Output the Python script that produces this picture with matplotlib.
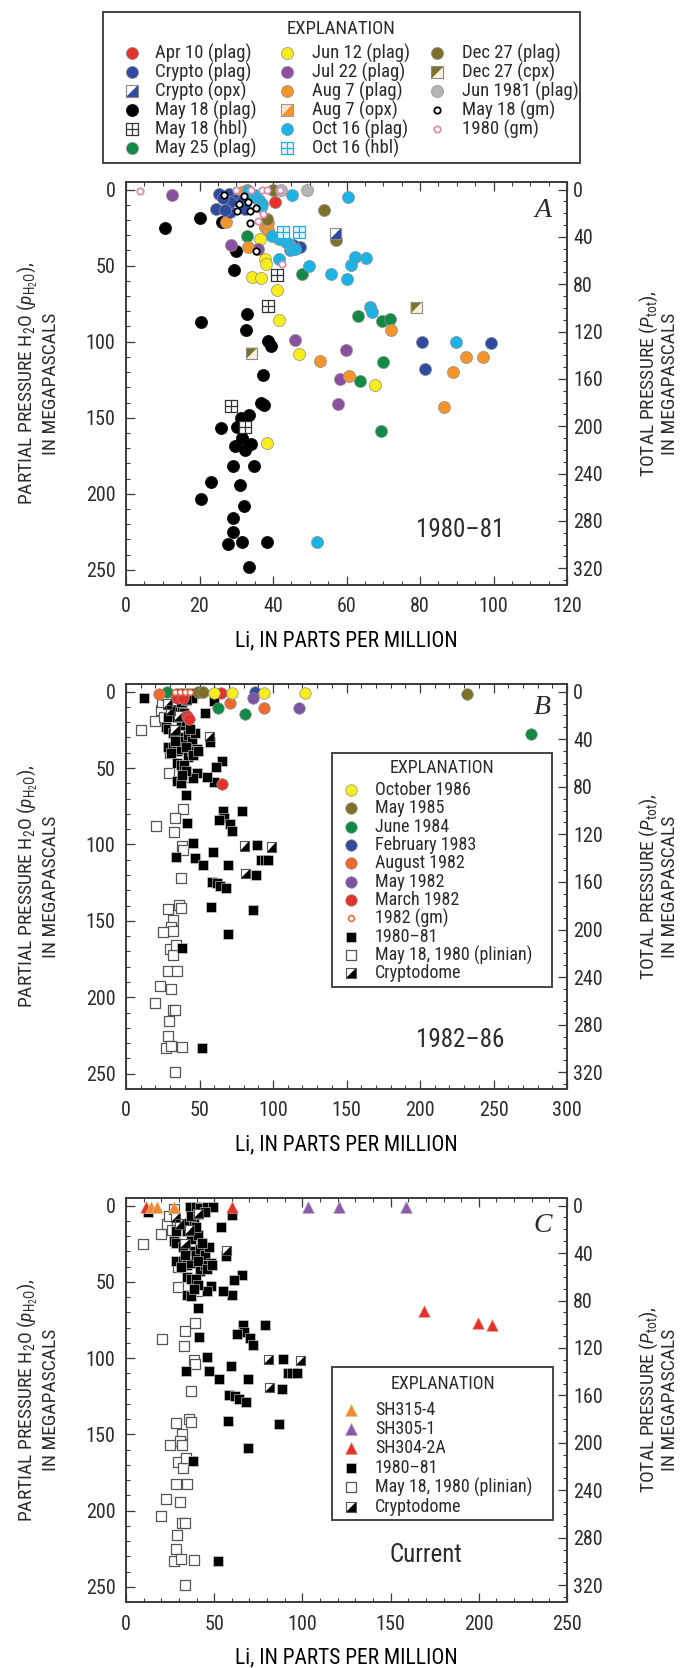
import matplotlib
matplotlib.use("Agg")
import matplotlib.pyplot as plt
from matplotlib.path import Path
from matplotlib.lines import Line2D
from matplotlib.patches import Rectangle
from matplotlib.ticker import MultipleLocator

SANS = ['Roboto Condensed', 'Archivo Narrow', 'Liberation Sans', 'DejaVu Sans']
SERIF = ['Liberation Serif', 'DejaVu Serif']
plt.rcParams['font.family'] = SANS
plt.rcParams['mathtext.fontset'] = 'custom'
plt.rcParams['mathtext.rm'] = 'Roboto Condensed'
plt.rcParams['mathtext.it'] = 'Roboto Condensed:italic'
plt.rcParams['text.color'] = '#2b2b2b'

# ---------------- Panel A: 1980-81 (Li ppm, pH2O MPa) ----------------
a_apr10_li = [40.6]
a_apr10_p = [8.3]
a_crypto_li = [25.4, 28.1, 24.5, 28.3, 29.6, 31.9, 28.3, 26.5, 32.5, 35.2, 27.0, 47.3, 45.5, 80.6, 81.4, 99.2]
a_crypto_p = [3.1, 2.7, 12.5, 14.7, 7.0, 6.6, 8.1, 5.5, 12.5, 5.0, 13.6, 37.8, 36.5, 100.0, 118.0, 101.0]
a_crypto_opx_li = [57.0]
a_crypto_opx_p = [28.8]
a_may18_li = [10.5, 20.0, 26.0, 30.0, 29.5, 20.5, 33.0, 32.7, 38.6, 39.5, 37.4, 36.6, 37.6, 33.5, 31.2,
              25.8, 30.3, 29.7, 32.3, 34.0, 31.5, 29.2, 34.7, 23.0, 30.9, 20.3, 32.2, 29.0, 29.0, 27.7,
              31.6, 38.3, 33.6]
a_may18_p = [25.5, 19.0, 21.0, 40.4, 52.8, 87.0, 82.0, 92.0, 99.4, 103.0, 122.0, 140.0, 141.6, 148.0, 150.0,
             157.0, 156.0, 168.6, 171.0, 167.0, 163.5, 181.7, 181.7, 192.0, 194.0, 203.6, 208.0, 216.0, 225.0,
             233.0, 231.4, 231.4, 248.0]
a_may18_hbl_li = [41.1, 38.7, 28.6, 32.4]
a_may18_hbl_p = [56.0, 76.6, 142.0, 156.0]
a_may25_li = [33.0, 47.9, 63.2, 69.7, 71.9, 69.9, 63.7, 69.3]
a_may25_p = [30.5, 55.7, 83.0, 86.5, 85.4, 113.2, 125.7, 158.7]
a_jun12_li = [37.8, 38.0, 34.4, 36.7, 41.1, 41.7, 47.2, 67.7, 38.3, 36.5]
a_jun12_p = [45.5, 49.0, 57.3, 58.3, 66.2, 86.0, 108.4, 128.5, 166.8, 32.5]
a_jul22_li = [12.5, 28.6, 35.8, 46.0, 59.8, 58.2, 57.6]
a_jul22_p = [3.7, 36.7, 39.2, 99.0, 105.5, 124.6, 141.2]
a_aug7_li = [27.1, 33.3, 37.8, 38.7, 38.6, 33.0, 31.5, 72.1, 52.9, 60.6, 92.4, 97.2, 89.1, 86.5]
a_aug7_p = [21.5, 38.0, 24.6, 26.8, 21.9, 0.5, 1.5, 92.4, 112.7, 122.4, 110.3, 110.3, 120.2, 142.7]
a_aug7_opx_li = []
a_aug7_opx_p = []
a_oct16_li = [45.3, 60.3, 41.5, 44.6, 44.6, 46.0, 43.6, 41.6, 49.7, 55.8, 60.0, 61.1, 62.4, 65.4, 66.3,
              66.9, 89.7, 51.9, 33.3, 35.2, 36.2, 36.9, 36.8, 39.8]
a_oct16_p = [3.5, 5.0, 45.5, 36.7, 40.0, 38.9, 34.4, 32.8, 50.0, 55.8, 58.5, 49.5, 44.0, 44.7, 77.0,
             80.3, 100.0, 231.4, 1.0, 3.8, 7.0, 9.5, 11.4, 30.5]
a_oct16_hbl_li = [42.6, 47.2]
a_oct16_hbl_p = [27.9, 27.9]
a_dec27_li = [53.9, 57.1, 38.3, 40.1]
a_dec27_p = [13.6, 33.4, 19.5, 0.3]
a_dec27_cpx_li = [79.0, 34.2]
a_dec27_cpx_p = [77.7, 107.7]
a_jun1981_li = [49.3, 42.3]
a_jun1981_p = [0.5, 0.3]
a_may18_gm_li = [26.8, 30.8, 33.3, 30.3, 33.7, 35.4, 33.7, 35.5, 32.0]
a_may18_gm_p = [3.8, 9.2, 8.1, 14.0, 14.0, 11.9, 22.0, 40.4, 4.5]
a_gm1980_li = [3.8, 29.9, 33.9, 36.9, 38.3, 41.9, 37.4, 36.0, 42.4]
a_gm1980_p = [1.0, 0.3, 0.3, 0.3, 0.3, 0.3, 15.8, 20.6, 49.2]

# ---------------- Panels B and C: shared 1980-81 reference data ----------------
ref_8081_li = [12.4, 36.4, 39.6, 42.1, 45.8, 49.5, 60.1, 53.7, 56.9, 65.6, 61.4, 60.1, 55.0, 48.3, 45.8,
               34.7, 37.1, 40.8, 66.1, 66.8, 63.1, 70.5, 71.8, 78.7, 41.3, 45.8, 59.4, 47.0, 34.2, 52.7,
               69.3, 89.1, 91.6, 94.3, 96.8, 88.6, 58.2, 61.9, 63.9, 68.1, 57.7, 86.6, 69.3, 37.9, 52.0,
               28.5, 27.2, 28.5, 28.5, 32.2, 34.7, 37.1, 38.4, 39.6, 42.1, 44.6, 47.0, 48.3, 42.1, 44.6,
               37.1, 40.8, 35.9, 38.4, 34.7, 34.7, 37.1, 39.6, 40.8, 38.4, 32.2, 33.4, 30.9, 40.8, 45.8,
               49.0, 37.1, 40.8, 44.6, 39.6, 43.3]
ref_8081_p = [4.4, 1.0, 1.0, 1.5, 1.0, 1.0, 6.0, 13.7, 33.0, 45.3, 49.0, 58.8, 55.7, 53.0, 56.2,
              58.3, 59.6, 67.4, 78.2, 82.9, 84.2, 86.8, 91.5, 78.2, 86.0, 99.2, 104.9, 108.8, 108.3, 113.5,
              113.5, 100.3, 110.0, 110.0, 110.0, 120.0, 124.4, 125.1, 126.9, 128.8, 141.2, 143.0, 158.8, 167.6, 233.2,
              16.8, 23.3, 24.6, 36.3, 36.3, 38.9, 37.6, 29.8, 32.4, 28.5, 32.4, 27.2, 37.6, 42.7, 38.9,
              22.0, 19.4, 11.7, 11.7, 16.8, 46.6, 47.9, 47.9, 51.8, 54.4, 27.2, 32.4, 40.2, 36.3, 41.5,
              38.9, 6.5, 5.2, 3.9, 14.2, 24.6]
ref_plinian_li = [9.9, 19.8, 23.5, 26.0, 24.3, 27.0, 29.7, 29.2, 40.8, 38.9, 33.4, 20.3, 32.7, 38.4, 39.1,
                  37.1, 28.5, 35.9, 37.1, 31.7, 30.4, 31.7, 25.2, 29.7, 32.2, 34.2, 28.5, 34.7, 22.8, 30.4,
                  19.8, 31.7, 33.4, 29.0, 28.5, 27.2, 30.9, 38.4, 33.4]
ref_plinian_p = [25.4, 18.9, 12.2, 16.3, 6.5, 2.0, 40.2, 53.1, 55.7, 76.9, 82.4, 87.6, 92.0, 101.0, 103.6,
                 121.8, 142.5, 139.9, 141.7, 149.5, 154.1, 156.7, 157.3, 168.4, 172.3, 165.8, 182.6, 182.6, 192.5, 194.3,
                 203.9, 208.5, 208.5, 215.8, 225.4, 233.2, 231.9, 232.4, 248.7]
ref_crypto_li = [56.9, 80.7, 99.0, 81.2, 28.0, 30.5, 33.4, 41.0, 36.0]
ref_crypto_p = [29.3, 101.0, 101.6, 119.2, 8.0, 12.0, 25.0, 5.0, 16.0]

# ---------------- Panel B: 1982-86 ----------------
b_oct1986_li = [59.8, 72.0, 94.0, 122.0]
b_oct1986_p = [0.8, 0.8, 0.8, 0.8]
b_may1985_li = [49.2, 52.6, 232.0]
b_may1985_p = [0.5, 0.5, 1.5]
b_jun1984_li = [28.0, 62.8, 80.9, 275.6]
b_jun1984_p = [0.3, 11.0, 14.5, 28.0]
b_feb1983_li = [88.0]
b_feb1983_p = [0.5]
b_aug1982_li = [22.7, 70.7, 94.0]
b_aug1982_p = [1.3, 7.2, 11.0]
b_may1982_li = [86.1, 117.6]
b_may1982_p = [4.0, 11.0]
b_mar1982_li = [34.5, 39.0, 41.3, 43.1, 64.7, 65.1]
b_mar1982_p = [4.0, 4.0, 16.0, 18.2, 0.8, 60.5]
b_gm1982_li = [33.3, 36.7, 40.1, 43.5]
b_gm1982_p = [0.5, 0.5, 0.5, 0.5]

# ---------------- Panel C: current samples ----------------
c_sh315_li = [14.2, 17.7, 27.2]
c_sh315_p = [0.8, 0.8, 0.8]
c_sh305_li = [103.2, 120.8, 158.9]
c_sh305_p = [0.8, 0.8, 0.8]
c_sh304_li = [11.3, 60.1, 168.8, 199.7, 207.4]
c_sh304_p = [0.8, 0.8, 69.2, 76.9, 78.5]

PTOT_FACTOR = 1.285  # total pressure per unit pH2O on the right-hand axis

# ---------------- marker shapes ----------------
SQUARE = Path([(-1, -1), (1, -1), (1, 1), (-1, 1), (-1, -1)],
              [Path.MOVETO, Path.LINETO, Path.LINETO, Path.LINETO, Path.CLOSEPOLY])
LOWER_RIGHT = Path([(-1, -1), (1, -1), (1, 1), (-1, -1)],
                   [Path.MOVETO, Path.LINETO, Path.LINETO, Path.CLOSEPOLY])
UPPER_LEFT = Path([(-1, -1), (1, 1), (-1, 1), (-1, -1)],
                  [Path.MOVETO, Path.LINETO, Path.LINETO, Path.CLOSEPOLY])
GRID_SQ = Path([(-1, -1), (1, -1), (1, 1), (-1, 1), (-1, -1), (0, -1), (0, 1), (-1, 0), (1, 0)],
               [Path.MOVETO, Path.LINETO, Path.LINETO, Path.LINETO, Path.CLOSEPOLY,
                Path.MOVETO, Path.LINETO, Path.MOVETO, Path.LINETO])

C_RED = '#e5312b'
C_BLUE = '#2f4b9f'
C_GREEN = '#108a45'
C_YELLOW = '#f7ec1c'
C_PURPLE = '#8b4f9f'
C_ORANGE = '#f4952c'
C_CYAN = '#1bb3e6'
C_OLIVE = '#7d7129'
C_GRAY = '#b5b5b5'
C_PINK = '#d58fae'
B_ORANGE = '#ee6a2c'
B_PURPLE = '#7c54a4'
T_ORANGE = '#ee8a33'
T_PURPLE = '#8a5aa8'
EDGE = '#8f8f8f'
AXC = '#3a3a3a'

# marker specs: list of layers (marker, face, edge, size_pt, edge_width)
MS_A, MS_SQ_A, MS_GM = 8.7, 8.2, 4.6
MS_B, MS_SQ, MS_TRI = 8.3, 6.7, 8.4


def circ(color, ms, edge=EDGE):
    return [('o', color, edge, ms, 0.5)]


def half(fill, other, tri, ms, edge):
    return [(SQUARE, other, 'none', ms, 0), (tri, fill, 'none', ms, 0), (SQUARE, 'none', edge, ms, 0.8)]


def grid(face, edge, ms):
    return [(GRID_SQ, face, edge, ms, 0.9)]


SPEC = {
    'apr10': circ(C_RED, MS_A), 'crypto': circ(C_BLUE, MS_A),
    'crypto_opx': half(C_BLUE, 'white', LOWER_RIGHT, MS_SQ_A, '#8a8a8a'),
    'may18': circ('black', MS_A, 'black'), 'may18_hbl': grid('white', '#333333', MS_SQ_A),
    'may25': circ(C_GREEN, MS_A), 'jun12': circ(C_YELLOW, MS_A), 'jul22': circ(C_PURPLE, MS_A),
    'aug7': circ(C_ORANGE, MS_A), 'aug7_opx': half(C_ORANGE, '#fbe3d6', LOWER_RIGHT, MS_SQ_A, '#9a9a9a'),
    'oct16': circ(C_CYAN, MS_A), 'oct16_hbl': grid('#e3f4fb', C_CYAN, MS_SQ_A),
    'dec27': circ(C_OLIVE, MS_A), 'dec27_cpx': half(C_OLIVE, '#f6f1dc', UPPER_LEFT, MS_SQ_A, '#8a8a8a'),
    'jun1981': circ(C_GRAY, MS_A), 'may18_gm': [('o', 'white', 'black', MS_GM, 1.3)],
    'gm1980': [('o', 'white', C_PINK, MS_GM, 1.3)],
    'oct1986': circ(C_YELLOW, MS_B), 'may1985': circ(C_OLIVE, MS_B), 'jun1984': circ(C_GREEN, MS_B),
    'feb1983': circ(C_BLUE, MS_B), 'aug1982': circ(B_ORANGE, MS_B), 'may1982': circ(B_PURPLE, MS_B),
    'mar1982': circ(C_RED, MS_B), 'gm1982': [('o', 'white', '#e8603a', 4.2, 1.1)],
    'ref8081': [('s', 'black', '#dddddd', MS_SQ, 0.4)], 'plinian': [('s', 'white', '#555555', MS_SQ, 0.9)],
    'cryptodome': half('black', 'white', LOWER_RIGHT, MS_SQ, '#555555'),
    'sh315': [('^', T_ORANGE, '#f0c090', MS_TRI, 0.5)], 'sh305': [('^', T_PURPLE, '#b0a0c8', MS_TRI, 0.5)],
    'sh304': [('^', C_RED, '#e09a90', MS_TRI, 0.5)],
}


def plot_set(ax, x, y, key, z=3):
    for marker, face, edge, ms, mew in SPEC[key]:
        ax.scatter(x, y, s=ms ** 2, marker=marker, facecolor=face, edgecolor=edge,
                   linewidths=mew, zorder=z)


W, H = 683.0, 1668.0


def fx(px):
    return px / W


def fy(py):
    return 1 - py / H


def legend_box(fig, box, title_y, rows, marker_x, text_x, fontsize):
    x0, y0, x1, y1 = box
    fig.add_artist(Rectangle((fx(x0), fy(y1)), fx(x1) - fx(x0), fy(y0) - fy(y1), transform=fig.transFigure,
                             facecolor='white', edgecolor='#444444', linewidth=1.4, zorder=5))
    fig.text(fx((x0 + x1) / 2), fy(title_y), 'EXPLANATION', ha='center', va='center', fontsize=fontsize, zorder=6)
    for (key, label, ypx, col) in rows:
        for marker, face, edge, ms, mew in SPEC[key]:
            fig.add_artist(Line2D([fx(marker_x[col])], [fy(ypx)], transform=fig.transFigure, ls='none',
                                  marker=marker, markerfacecolor=face, markeredgecolor=edge,
                                  markersize=ms, markeredgewidth=mew, zorder=6))
        fig.text(fx(text_x[col]), fy(ypx), label, ha='left', va='center', fontsize=fontsize, zorder=6)


def style_axes(ax, xmax, xmajor, xminor):
    ax.set_xlim(0, xmax)
    ax.set_ylim(260, -5)
    ax.xaxis.set_major_locator(MultipleLocator(xmajor))
    ax.xaxis.set_minor_locator(MultipleLocator(xminor))
    ax.yaxis.set_major_locator(MultipleLocator(50))
    ax.yaxis.set_minor_locator(MultipleLocator(10))
    ax.tick_params(which='both', direction='in', top=True, right=False, colors=AXC,
                   labelcolor='#2b2b2b', labelsize=14.5)
    ax.tick_params(which='major', length=6.5, width=0.9)
    ax.tick_params(which='minor', length=3.2, width=0.8)
    ax.tick_params(axis='y', pad=7.5)
    ax.tick_params(axis='x', pad=9)
    for sp in ax.spines.values():
        sp.set_color(AXC)
        sp.set_linewidth(1.2)
    ax2 = ax.twinx()
    ax2.set_ylim(260 * PTOT_FACTOR, -5 * PTOT_FACTOR)
    ax2.yaxis.set_major_locator(MultipleLocator(40))
    ax2.yaxis.set_minor_locator(MultipleLocator(10))
    ax2.tick_params(which='both', direction='in', colors=AXC, labelcolor='#2b2b2b', labelsize=14.5, pad=4.5)
    ax2.tick_params(which='major', length=6.5, width=0.9)
    ax2.tick_params(which='minor', length=3.2, width=0.8)
    for sp in ax2.spines.values():
        sp.set_color(AXC)
        sp.set_linewidth(1.2)
    ax.set_xlabel('Li, IN PARTS PER MILLION', fontsize=15.5, labelpad=10)
    return ax2


fig = plt.figure(figsize=(6.83, 16.68), dpi=100)
fig.patch.set_facecolor('white')

panels = {}
for key, top_px, bot_px in [('A', 182, 585), ('B', 684, 1089), ('C', 1198, 1602)]:
    panels[key] = fig.add_axes([126 / W, 1 - bot_px / H, 441 / W, (bot_px - top_px) / H])

YLAB = 'PARTIAL PRESSURE H$_2$O ($p_{\\mathrm{H_2O}}$),\nIN MEGAPASCALS'
RLAB = 'TOTAL PRESSURE ($P_{\\mathrm{tot}}$),\nIN MEGAPASCALS'
for key, ax in panels.items():
    pos = ax.get_position()
    yc = pos.y0 + pos.height / 2
    fig.text(38 / W, yc, YLAB, rotation=90, ha='center', va='center', multialignment='center',
             fontsize=14, linespacing=1.1)
    fig.text(658 / W, yc, RLAB, rotation=90, ha='center', va='center', multialignment='center',
             fontsize=14, linespacing=1.1)

# ---------------- Panel A ----------------
ax = panels['A']
style_axes(ax, 120, 20, 5)
plot_set(ax, a_may18_li, a_may18_p, 'may18')
plot_set(ax, a_may18_hbl_li, a_may18_hbl_p, 'may18_hbl')
plot_set(ax, a_may25_li, a_may25_p, 'may25')
plot_set(ax, a_jun12_li, a_jun12_p, 'jun12')
plot_set(ax, a_jul22_li, a_jul22_p, 'jul22')
plot_set(ax, a_aug7_li, a_aug7_p, 'aug7')
plot_set(ax, a_aug7_opx_li, a_aug7_opx_p, 'aug7_opx')
plot_set(ax, a_crypto_li, a_crypto_p, 'crypto')
plot_set(ax, a_oct16_li, a_oct16_p, 'oct16')
plot_set(ax, a_oct16_hbl_li, a_oct16_hbl_p, 'oct16_hbl')
plot_set(ax, a_dec27_li, a_dec27_p, 'dec27')
plot_set(ax, a_dec27_cpx_li, a_dec27_cpx_p, 'dec27_cpx')
plot_set(ax, a_crypto_opx_li, a_crypto_opx_p, 'crypto_opx')
plot_set(ax, a_apr10_li, a_apr10_p, 'apr10')
plot_set(ax, a_jun1981_li, a_jun1981_p, 'jun1981')
plot_set(ax, a_may18_gm_li, a_may18_gm_p, 'may18_gm', z=4)
plot_set(ax, a_gm1980_li, a_gm1980_p, 'gm1980', z=4)
ax.text(0.946, 0.929, 'A', transform=ax.transAxes, fontsize=20, style='italic', family=SERIF,
        ha='center', va='center')
ax.text(0.757, 0.136, '1980\u201381', transform=ax.transAxes, fontsize=18, ha='center', va='center')

top_entries = [('apr10', 'Apr 10 (plag)'), ('crypto', 'Crypto (plag)'), ('crypto_opx', 'Crypto (opx)'),
               ('may18', 'May 18 (plag)'), ('may18_hbl', 'May 18 (hbl)'), ('may25', 'May 25 (plag)'),
               ('jun12', 'Jun 12 (plag)'), ('jul22', 'Jul 22 (plag)'), ('aug7', 'Aug 7 (plag)'),
               ('aug7_opx', 'Aug 7 (opx)'), ('oct16', 'Oct 16 (plag)'), ('oct16_hbl', 'Oct 16 (hbl)'),
               ('dec27', 'Dec 27 (plag)'), ('dec27_cpx', 'Dec 27 (cpx)'), ('jun1981', 'Jun 1981 (plag)'),
               ('may18_gm', 'May 18 (gm)'), ('gm1980', '1980 (gm)')]
top_rows = [(k, lab, 53 + 19 * (i % 6), i // 6) for i, (k, lab) in enumerate(top_entries)]
legend_box(fig, (103, 12, 580, 163), 29, top_rows, [132, 287, 437], [155, 312, 462], 13.5)

# ---------------- Panels B and C: shared reference points ----------------
def reference_points(ax):
    plot_set(ax, ref_plinian_li, ref_plinian_p, 'plinian', z=2)
    plot_set(ax, ref_8081_li, ref_8081_p, 'ref8081', z=2)
    plot_set(ax, ref_crypto_li, ref_crypto_p, 'cryptodome', z=2)


ref_entries = [('ref8081', '1980\u201381'), ('plinian', 'May 18, 1980 (plinian)'), ('cryptodome', 'Cryptodome')]

# ---------------- Panel B ----------------
ax = panels['B']
style_axes(ax, 300, 50, 10)
reference_points(ax)
plot_set(ax, b_jun1984_li, b_jun1984_p, 'jun1984')
plot_set(ax, b_aug1982_li, b_aug1982_p, 'aug1982')
plot_set(ax, b_mar1982_li, b_mar1982_p, 'mar1982')
plot_set(ax, b_feb1983_li, b_feb1983_p, 'feb1983')
plot_set(ax, b_may1982_li, b_may1982_p, 'may1982')
plot_set(ax, b_may1985_li, b_may1985_p, 'may1985')
plot_set(ax, b_oct1986_li, b_oct1986_p, 'oct1986')
plot_set(ax, b_gm1982_li, b_gm1982_p, 'gm1982', z=4)
ax.text(0.943, 0.941, 'B', transform=ax.transAxes, fontsize=20, style='italic', family=SERIF,
        ha='center', va='center')
ax.text(0.757, 0.121, '1982\u201386', transform=ax.transAxes, fontsize=18, ha='center', va='center')
b_entries = [('oct1986', 'October 1986'), ('may1985', 'May 1985'), ('jun1984', 'June 1984'),
             ('feb1983', 'February 1983'), ('aug1982', 'August 1982'), ('may1982', 'May 1982'),
             ('mar1982', 'March 1982'), ('gm1982', '1982 (gm)')] + ref_entries
b_rows = [(k, lab, 790 + 18.33 * i, 0) for i, (k, lab) in enumerate(b_entries)]
legend_box(fig, (332, 753, 552, 987), 768, b_rows, [351], [375], 13)

# ---------------- Panel C ----------------
ax = panels['C']
style_axes(ax, 250, 50, 10)
reference_points(ax)
plot_set(ax, c_sh305_li, c_sh305_p, 'sh305', z=4)
plot_set(ax, c_sh304_li, c_sh304_p, 'sh304', z=4)
plot_set(ax, c_sh315_li, c_sh315_p, 'sh315', z=4)
ax.text(0.946, 0.931, 'C', transform=ax.transAxes, fontsize=20, style='italic', family=SERIF,
        ha='center', va='center')
ax.text(0.68, 0.116, 'Current', transform=ax.transAxes, fontsize=18, ha='center', va='center')
c_entries = [('sh315', 'SH315-4'), ('sh305', 'SH305-1'), ('sh304', 'SH304-2A')] + ref_entries
c_rows = [(k, lab, 1409.7 + 19.36 * i, 0) for i, (k, lab) in enumerate(c_entries)]
legend_box(fig, (332, 1367, 553, 1520), 1384, c_rows, [351], [375], 13)

fig.savefig('out.png', dpi=100, facecolor='white')
